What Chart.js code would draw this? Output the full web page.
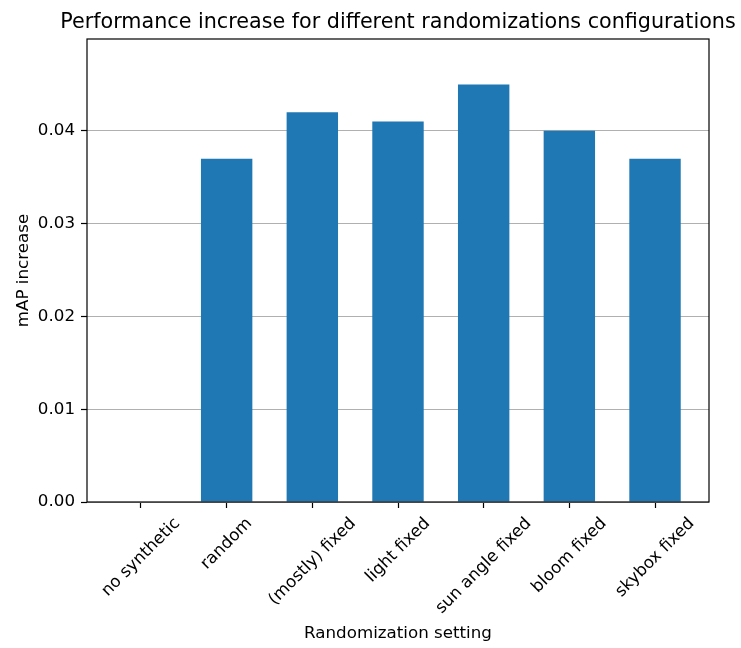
<!DOCTYPE html>
<html>
<head>
<meta charset="utf-8">
<script src="https://cdn.jsdelivr.net/npm/chart.js"></script>
<style>
  html, body { margin: 0; padding: 0; background: #fff; }
  #wrap { width: 741px; height: 648px; }
</style>
</head>
<body>
<div id="wrap"><canvas id="chart-canvas"></canvas></div>
<script>
const categories = ["no synthetic", "random", "(mostly) fixed", "light fixed", "sun angle fixed", "bloom fixed", "skybox fixed"];
const mapIncrease = [0, 0.037, 0.042, 0.041, 0.045, 0.040, 0.037];
const yTicks = [0, 0.01, 0.02, 0.03, 0.04];
const chartTitle = "Performance increase for different randomizations configurations";

const FONT = '"DejaVu Sans", sans-serif';

// title + rotated category labels, centred like matplotlib does it
const textPlugin = {
    id: "textPlugin",
    afterDraw(chart) {
        const ctx = chart.ctx;
        const area = chart.chartArea;
        const xScale = chart.scales.x;
        ctx.save();
        ctx.fillStyle = "#000";

        ctx.font = "20.7px " + FONT;
        ctx.textAlign = "center";
        ctx.textBaseline = "alphabetic";
        ctx.fillText(chartTitle, (area.left + area.right) / 2, 28);

        ctx.font = "16.7px " + FONT;
        ctx.textAlign = "center";
        ctx.textBaseline = "middle";
        const h = 16.7 * 1.17;
        const top = area.bottom + 12;
        categories.forEach((label, i) => {
            const w = ctx.measureText(label).width;
            const half = (w + h) / (2 * Math.SQRT2);
            ctx.save();
            ctx.translate(xScale.getPixelForValue(i), top + half);
            ctx.rotate(-Math.PI / 4);
            ctx.fillText(label, 0, 0);
            ctx.restore();
        });

        // axes frame
        ctx.strokeStyle = "#000";
        ctx.lineWidth = 1.2;
        ctx.strokeRect(area.left, area.top, area.right - area.left, area.bottom - area.top);
        ctx.restore();
    }
};

const ctx = document.getElementById("chart-canvas").getContext("2d");
new Chart(ctx, {
    type: "bar",
    data: {
        datasets: [{
            label: "mAP increase",
            data: mapIncrease.map((v, i) => ({ x: i, y: v })),
            backgroundColor: "#1f77b4",
            borderWidth: 0,
            categoryPercentage: 1,
            barPercentage: 0.6
        }]
    },
    options: {
        responsive: true,
        maintainAspectRatio: false,
        animation: false,
        layout: { padding: { top: 39, right: 32, left: 0, bottom: 0 } },
        plugins: {
            legend: { display: false },
            title: { display: false },
            tooltip: { enabled: false }
        },
        scales: {
            x: {
                type: "linear",
                offset: false,
                min: -0.63,
                max: 6.63,
                afterBuildTicks(scale) {
                    scale.ticks = categories.map((c, i) => ({ value: i }));
                },
                afterFit(scale) { scale.height = 146; },
                grid: {
                    offset: false,
                    drawOnChartArea: false,
                    drawTicks: true,
                    tickLength: 6,
                    tickColor: "#000",
                    tickWidth: 1.2
                },
                border: { display: false },
                ticks: { display: false },
                title: {
                    display: true,
                    text: "Randomization setting",
                    color: "#000",
                    font: { family: FONT, size: 16.7 },
                    padding: { top: 0, bottom: 4 }
                }
            },
            y: {
                min: 0,
                max: 0.0499,
                afterBuildTicks(scale) {
                    scale.ticks = yTicks.map(v => ({ value: v }));
                },
                afterFit(scale) { scale.width = 87; },
                grid: {
                    color: "#b0b0b0",
                    lineWidth: 1,
                    drawTicks: true,
                    tickLength: 6,
                    tickColor: "#000",
                    tickWidth: 1.2
                },
                border: { display: false },
                ticks: {
                    color: "#000",
                    padding: 6,
                    font: { family: FONT, size: 16.7 },
                    callback: v => v.toFixed(2)
                },
                title: {
                    display: true,
                    text: "mAP increase",
                    color: "#000",
                    font: { family: FONT, size: 16.7 },
                    padding: { top: 14, bottom: 0 }
                }
            }
        }
    },
    plugins: [textPlugin]
});
</script>
</body>
</html>
